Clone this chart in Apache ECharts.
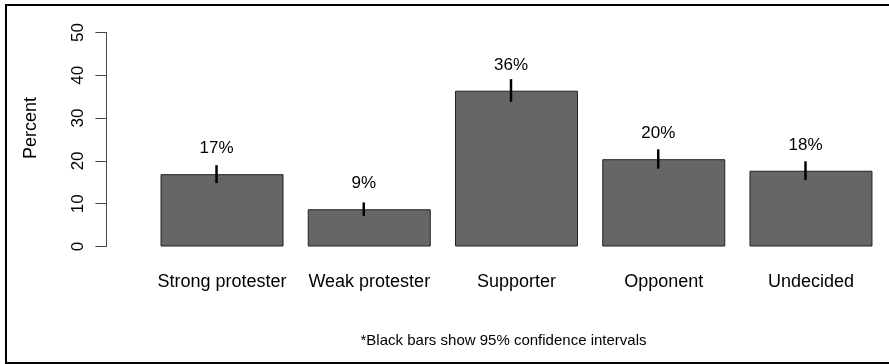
<!DOCTYPE html>
<html>
<head>
<meta charset="utf-8">
<script src="https://cdn.jsdelivr.net/npm/echarts@6/dist/echarts.min.js"></script>
<style>
  html, body { margin: 0; padding: 0; background: #fff; }
  #chart { width: 889px; height: 364px; }
</style>
</head>
<body>
<div id="chart"></div>
<script>
// Share of respondents in each group, with 95% confidence intervals
const categories = ['Strong protester', 'Weak protester', 'Supporter', 'Opponent', 'Undecided'];
const percents = [16.9, 8.7, 36.4, 20.4, 17.7];
const ciLower = [14.8, 7.1, 33.8, 18.2, 15.5];
const ciUpper = [19.0, 10.3, 39.1, 22.7, 19.9];
const yTicks = [0, 10, 20, 30, 40, 50];

const FONT = '"Liberation Sans", Arial, Helvetica, sans-serif';
const LABEL_LIFT = 6;      // value labels sit this many units above the bar top
const CI_SHIFT = -5.5;     // whisker and label drawn slightly left of bar centre

const chart = echarts.init(document.getElementById('chart'), null, { renderer: 'canvas' });

const option = {
  backgroundColor: '#ffffff',
  animation: false,
  grid: { left: 148.4, right: 4.4, top: 32.5, bottom: 117.5, containLabel: false },
  xAxis: {
    type: 'category',
    data: categories,
    axisLine: { show: false },
    axisTick: { show: false },
    axisLabel: {
      interval: 0, hideOverlap: false,
      color: '#000', fontFamily: FONT, fontSize: 18, margin: 26.5, lineHeight: 18
    },
    splitLine: { show: false }
  },
  yAxis: {
    type: 'value',
    min: yTicks[0],
    max: yTicks[yTicks.length - 1],
    interval: 10,
    offset: 42,
    axisLine: { show: true, lineStyle: { color: '#444', width: 1 } },
    axisTick: { show: true, length: 11, lineStyle: { color: '#444', width: 1 } },
    axisLabel: {
      rotate: 90, color: '#000', fontFamily: FONT, fontSize: 17, margin: 20
    },
    splitLine: { show: false }
  },
  series: [
    {
      type: 'bar',
      data: percents,
      barWidth: 123,
      itemStyle: { color: '#666666', borderColor: '#222', borderWidth: 1 },
      silent: true
    },
    {
      type: 'custom',
      data: categories.map((c, i) => [i, ciLower[i], ciUpper[i], percents[i]]),
      renderItem: function (params, api) {
        const i = api.value(0);
        const lo = api.coord([i, api.value(1)]);
        const hi = api.coord([i, api.value(2)]);
        const lab = api.coord([i, api.value(3) + LABEL_LIFT]);
        const x = lo[0] + CI_SHIFT;
        return {
          type: 'group',
          children: [
            {
              type: 'line',
              shape: { x1: x, y1: lo[1], x2: x, y2: hi[1] },
              style: { stroke: '#000', lineWidth: 2.5 }
            },
            {
              type: 'text',
              x: x,
              y: lab[1],
              style: {
                text: Math.round(api.value(3)) + '%',
                fill: '#000',
                font: '17px ' + FONT,
                textAlign: 'center',
                textVerticalAlign: 'middle'
              }
            }
          ]
        };
      },
      z: 5,
      silent: true
    }
  ],
  graphic: [
    { type: 'line', shape: { x1: 5, y1: 5, x2: 889, y2: 5 }, style: { stroke: '#000', lineWidth: 2 } },
    { type: 'line', shape: { x1: 6, y1: 4, x2: 6, y2: 364 }, style: { stroke: '#000', lineWidth: 2 } },
    { type: 'line', shape: { x1: 5, y1: 363, x2: 889, y2: 363 }, style: { stroke: '#000', lineWidth: 2 } },
    {
      // y-axis title
      type: 'text',
      x: 31,
      y: 128,
      rotation: Math.PI / 2,
      style: {
        text: 'Percent',
        fill: '#000',
        font: '18px ' + FONT,
        textAlign: 'center',
        textVerticalAlign: 'middle'
      }
    },
    {
      type: 'text',
      x: 503.5,
      y: 341,
      style: {
        text: '*Black bars show 95% confidence intervals',
        fill: '#000',
        font: '15px ' + FONT,
        textAlign: 'center',
        textVerticalAlign: 'middle'
      }
    }
  ]
};

chart.setOption(option);
</script>
</body>
</html>
